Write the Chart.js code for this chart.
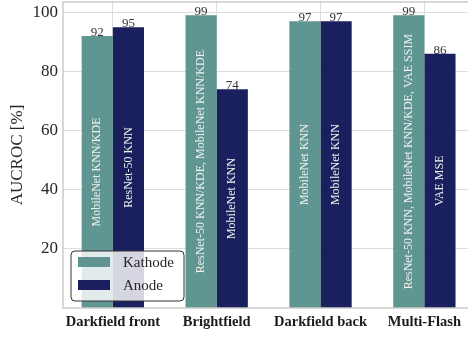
<!DOCTYPE html>
<html>
<head>
<meta charset="utf-8">
<script src="https://cdn.jsdelivr.net/npm/chart.js@4/dist/chart.umd.min.js"></script>
<style>
  html, body { margin: 0; padding: 0; background: #fff; overflow: hidden; }
  #wrap { width: 468px; height: 337px; }
</style>
</head>
<body>
<div id="wrap"><canvas id="c" width="468" height="337"></canvas></div>
<script>
// Setups compared and the best AUCROC per setup for each electrode
const categories = ['Darkfield front', 'Brightfield', 'Darkfield back', 'Multi-Flash'];
const seriesNames = ['Kathode', 'Anode'];
const kathodeValues = [92, 99, 97, 99];
const anodeValues = [95, 74, 97, 86];
// Best-performing method(s) per bar
const kathodeMethods = ['MobileNet KNN/KDE', 'ResNet-50 KNN/KDE, MobileNet KNN/KDE', 'MobileNet KNN', 'ResNet-50 KNN, MobileNet KNN/KDE, VAE SSIM'];
const anodeMethods = ['ResNet-50 KNN', 'MobileNet KNN', 'MobileNet KNN', 'VAE MSE'];
const yTicks = [20, 40, 60, 80, 100];

const SERIF = '"Liberation Serif", "DejaVu Serif", serif';
const colors = ['rgba(81,141,137,0.92)', 'rgba(7,12,80,0.92)'];
const solid = ['#5f9490', '#1b1f5e'];
const methods = [kathodeMethods, anodeMethods];

const toPoints = vals => vals.map((v, i) => ({ x: i, y: v }));

// Axis lines on left, top and bottom
const spines = {
  id: 'spines',
  afterDatasetsDraw(chart) {
    const { ctx, chartArea: a } = chart;
    ctx.save();
    ctx.strokeStyle = '#cccccc';
    ctx.lineWidth = 1.5;
    ctx.beginPath();
    ctx.moveTo(a.right + 2, a.top); ctx.lineTo(a.left, a.top);
    ctx.lineTo(a.left, a.bottom); ctx.lineTo(a.right + 2, a.bottom);
    ctx.stroke();
    ctx.restore();
  }
};

// Value above each bar and method name written up the bar
const barText = {
  id: 'barText',
  afterDatasetsDraw(chart) {
    const { ctx } = chart;
    ctx.save();
    chart.data.datasets.forEach((ds, di) => {
      const meta = chart.getDatasetMeta(di);
      meta.data.forEach((bar, i) => {
        const v = ds.data[i].y;
        ctx.fillStyle = '#333333';
        ctx.font = '13px ' + SERIF;
        ctx.textAlign = 'center';
        ctx.textBaseline = 'bottom';
        ctx.fillText(String(v), bar.x, bar.y + 3);

        const midY = (bar.y + bar.base) / 2;
        ctx.save();
        ctx.translate(bar.x, midY);
        ctx.rotate(-Math.PI / 2);
        ctx.fillStyle = '#eef0ee';
        ctx.font = '12px ' + SERIF;
        ctx.textAlign = 'center';
        ctx.textBaseline = 'middle';
        ctx.fillText(methods[di][i], 0, 0);
        ctx.restore();
      });
    });
    ctx.restore();
  }
};

// Legend box inside the lower left of the plot
const innerLegend = {
  id: 'innerLegend',
  afterDraw(chart) {
    const { ctx } = chart;
    const x = 71, y = 251, w = 113, h = 50, r = 4;
    ctx.save();
    ctx.beginPath();
    ctx.moveTo(x + r, y);
    ctx.arcTo(x + w, y, x + w, y + h, r);
    ctx.arcTo(x + w, y + h, x, y + h, r);
    ctx.arcTo(x, y + h, x, y, r);
    ctx.arcTo(x, y, x + w, y, r);
    ctx.closePath();
    ctx.fillStyle = 'rgba(255,255,255,0.82)';
    ctx.fill();
    ctx.strokeStyle = '#333333';
    ctx.lineWidth = 1;
    ctx.stroke();
    chart.data.datasets.forEach((ds, di) => {
      const cy = 262 + di * 23;
      ctx.fillStyle = solid[di];
      ctx.fillRect(78, cy - 5, 32, 10);
      ctx.fillStyle = '#262626';
      ctx.font = '15px ' + SERIF;
      ctx.textAlign = 'left';
      ctx.textBaseline = 'middle';
      ctx.fillText(ds.label, 123, cy + 1);
    });
    ctx.restore();
  }
};

new Chart(document.getElementById('c'), {
  type: 'bar',
  data: {
    datasets: [
      { label: seriesNames[0], data: toPoints(kathodeValues), backgroundColor: colors[0] },
      { label: seriesNames[1], data: toPoints(anodeValues), backgroundColor: colors[1] }
    ]
  },
  options: {
    responsive: false,
    animation: false,
    devicePixelRatio: 1,
    categoryPercentage: 0.6,
    barPercentage: 1.0,
    layout: { padding: { top: 2, right: 0, bottom: 0, left: 0 } },
    plugins: { legend: { display: false }, tooltip: { enabled: false } },
    scales: {
      x: {
        type: 'linear',
        offset: false,
        min: -0.48,
        max: 3.42,
        afterBuildTicks: s => { s.ticks = categories.map((_, i) => ({ value: i })); },
        afterFit: s => { s.height = 29; s.paddingLeft = 0; s.paddingRight = 0; },
        ticks: {
          callback: v => categories[v] ?? '',
          font: { family: SERIF, size: 14.5, weight: 'bold' },
          color: '#1a1a1a',
          padding: 6,
          maxRotation: 0,
          autoSkip: false
        },
        grid: { color: '#dddddd', lineWidth: 1, drawTicks: false, offset: false },
        border: { display: false }
      },
      y: {
        min: 0,
        max: 103.5,
        afterBuildTicks: s => { s.ticks = yTicks.map(v => ({ value: v })); },
        afterFit: s => { s.width = 63; s.paddingTop = 0; s.paddingBottom = 0; },
        ticks: {
          font: { family: SERIF, size: 17 },
          color: '#262626',
          padding: 5
        },
        grid: { color: '#dddddd', lineWidth: 1, drawTicks: false },
        border: { display: false },
        title: {
          display: true,
          text: 'AUCROC [%]',
          font: { family: SERIF, size: 17 },
          color: '#262626',
          padding: { top: 7, bottom: 0 }
        }
      }
    }
  },
  plugins: [spines, barText, innerLegend]
});
</script>
</body>
</html>
